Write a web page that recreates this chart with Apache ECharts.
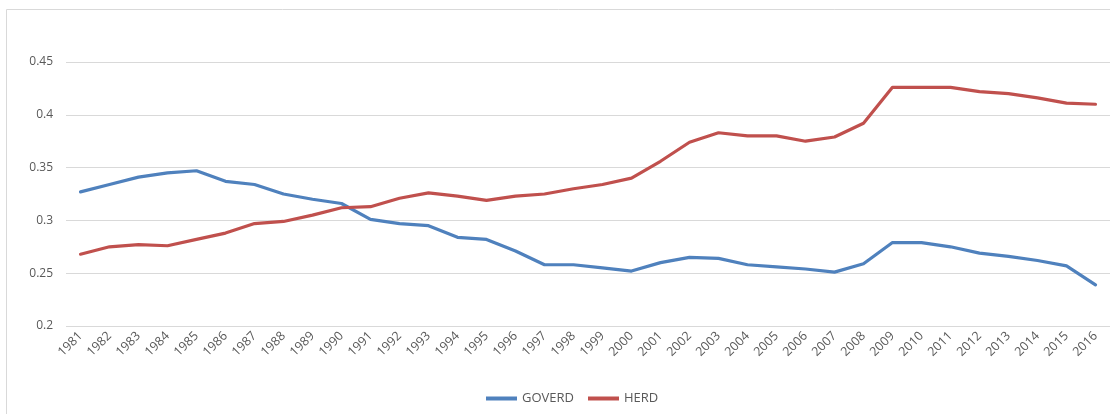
<!DOCTYPE html>
<html>
<head>
<meta charset="utf-8">
<script src="https://cdn.jsdelivr.net/npm/echarts@6/dist/echarts.min.js"></script>
<style>
    html, body { margin: 0; padding: 0; background: #fff; }
    #chart { width: 1110px; height: 414px; }
</style>
</head>
<body>
<div id="chart"></div>
<script>
const years = [
    "1981", "1982", "1983", "1984", "1985", "1986", "1987", "1988", "1989", "1990",
    "1991", "1992", "1993", "1994", "1995", "1996", "1997", "1998", "1999", "2000",
    "2001", "2002", "2003", "2004", "2005", "2006", "2007", "2008", "2009", "2010",
    "2011", "2012", "2013", "2014", "2015", "2016"
];
const goverd = [
    0.327, 0.334, 0.341, 0.345, 0.347, 0.337, 0.334, 0.325, 0.320, 0.316,
    0.301, 0.297, 0.295, 0.284, 0.282, 0.271, 0.258, 0.258, 0.255, 0.252,
    0.260, 0.265, 0.264, 0.258, 0.256, 0.254, 0.251, 0.259, 0.279, 0.279,
    0.275, 0.269, 0.266, 0.262, 0.257, 0.239
];
const herd = [
    0.268, 0.275, 0.277, 0.276, 0.282, 0.288, 0.297, 0.299, 0.305, 0.312,
    0.313, 0.321, 0.326, 0.323, 0.319, 0.323, 0.325, 0.330, 0.334, 0.340,
    0.356, 0.374, 0.383, 0.380, 0.380, 0.375, 0.379, 0.392, 0.426, 0.426,
    0.426, 0.422, 0.420, 0.416, 0.411, 0.410
];
const yMin = 0.2;
const yMax = 0.45;
const yStep = 0.05;

const textColor = "#595959";
const fontFamily = "'Open Sans', 'Liberation Sans', sans-serif";

const chart = echarts.init(document.getElementById("chart"));
chart.setOption({
    animation: false,
    textStyle: { fontFamily: fontFamily },
    graphic: [
        {
            type: "rect",
            shape: { x: 6.5, y: 9.5, width: 1120, height: 420 },
            style: { fill: "none", stroke: "#d9d9d9", lineWidth: 1 },
            silent: true,
        },
    ],
    grid: { left: 66, right: 0, top: 62, bottom: 88, containLabel: false },
    legend: {
        bottom: 4,
        left: 481,
        itemWidth: 31,
        itemHeight: 4,
        itemGap: 14,
        icon: "rect",
        textStyle: { color: textColor, fontSize: 13, fontFamily: fontFamily },
        data: ["GOVERD", "HERD"],
    },
    xAxis: {
        type: "category",
        data: years,
        boundaryGap: true,
        axisLine: { show: false },
        axisTick: { show: false },
        axisLabel: {
            rotate: 45,
            interval: 0,
            margin: 8,
            color: textColor,
            fontSize: 12.5,
            fontFamily: fontFamily,
        },
    },
    yAxis: {
        type: "value",
        min: yMin,
        max: yMax,
        interval: yStep,
        axisLine: { show: false },
        axisTick: { show: false },
        axisLabel: { margin: 13, color: textColor, fontSize: 12, fontFamily: fontFamily },
        splitLine: { lineStyle: { color: "#d9d9d9", width: 1 } },
    },
    series: [
        {
            name: "GOVERD",
            type: "line",
            data: goverd,
            symbol: "none",
            color: "#4f81bd",
            lineStyle: { width: 3.2, color: "#4f81bd", join: "round", cap: "round" },
        },
        {
            name: "HERD",
            type: "line",
            data: herd,
            symbol: "none",
            color: "#c0504d",
            lineStyle: { width: 3.2, color: "#c0504d", join: "round", cap: "round" },
        },
    ],
});
</script>
</body>
</html>
